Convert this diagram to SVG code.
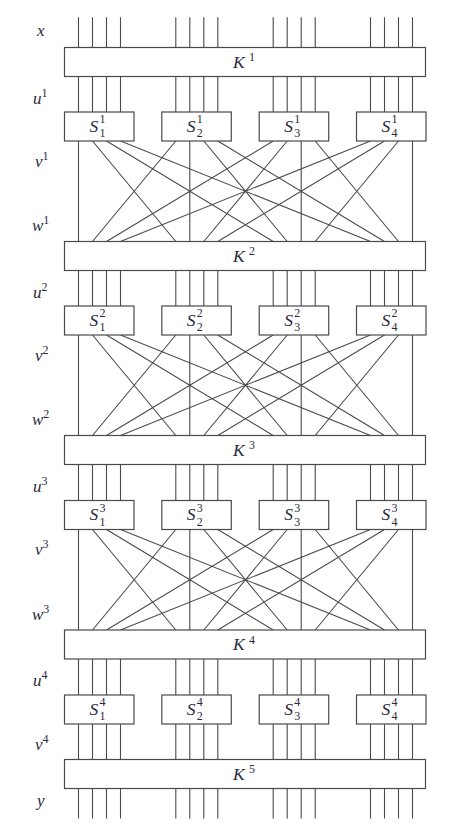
<svg xmlns="http://www.w3.org/2000/svg" width="473" height="839" viewBox="0 0 473 839">
<style>
.w{fill:none;stroke:#4a4a4a;stroke-width:1.1}
.box{fill:#fff;stroke:#4a4a4a;stroke-width:1.2}
.m{font-family:"Liberation Serif","DejaVu Serif",serif;font-style:italic;font-size:17.5px;fill:#2a2a3c}
.l{font-family:"Liberation Serif","DejaVu Serif",serif;font-style:italic;font-size:17px;fill:#2a2a3c}
.d{font-family:"Liberation Serif","DejaVu Serif",serif;font-style:normal;font-size:12px;fill:#2a2a3c}
</style>
<rect width="473" height="839" fill="#fff"/>
<g id="connectors">
<path class="w" d="M78.5 17.3V47.5M92.5 17.3V47.5M106.5 17.3V47.5M120.5 17.3V47.5M175.8 17.3V47.5M189.8 17.3V47.5M203.8 17.3V47.5M217.8 17.3V47.5M273.2 17.3V47.5M287.2 17.3V47.5M301.2 17.3V47.5M315.2 17.3V47.5M370.5 17.3V47.5M384.5 17.3V47.5M398.5 17.3V47.5M412.5 17.3V47.5"/>
<path class="w" d="M78.5 76.5V112M92.5 76.5V112M106.5 76.5V112M120.5 76.5V112M175.8 76.5V112M189.8 76.5V112M203.8 76.5V112M217.8 76.5V112M273.2 76.5V112M287.2 76.5V112M301.2 76.5V112M315.2 76.5V112M370.5 76.5V112M384.5 76.5V112M398.5 76.5V112M412.5 76.5V112"/>
<path class="w" d="M78.5 141L78.5 241.5M92.5 141L175.8 241.5M106.5 141L273.2 241.5M120.5 141L370.5 241.5M175.8 141L92.5 241.5M189.8 141L189.8 241.5M203.8 141L287.2 241.5M217.8 141L384.5 241.5M273.2 141L106.5 241.5M287.2 141L203.8 241.5M301.2 141L301.2 241.5M315.2 141L398.5 241.5M370.5 141L120.5 241.5M384.5 141L217.8 241.5M398.5 141L315.2 241.5M412.5 141L412.5 241.5"/>
<path class="w" d="M78.5 270.5V306M92.5 270.5V306M106.5 270.5V306M120.5 270.5V306M175.8 270.5V306M189.8 270.5V306M203.8 270.5V306M217.8 270.5V306M273.2 270.5V306M287.2 270.5V306M301.2 270.5V306M315.2 270.5V306M370.5 270.5V306M384.5 270.5V306M398.5 270.5V306M412.5 270.5V306"/>
<path class="w" d="M78.5 335L78.5 435.5M92.5 335L175.8 435.5M106.5 335L273.2 435.5M120.5 335L370.5 435.5M175.8 335L92.5 435.5M189.8 335L189.8 435.5M203.8 335L287.2 435.5M217.8 335L384.5 435.5M273.2 335L106.5 435.5M287.2 335L203.8 435.5M301.2 335L301.2 435.5M315.2 335L398.5 435.5M370.5 335L120.5 435.5M384.5 335L217.8 435.5M398.5 335L315.2 435.5M412.5 335L412.5 435.5"/>
<path class="w" d="M78.5 464.5V500.5M92.5 464.5V500.5M106.5 464.5V500.5M120.5 464.5V500.5M175.8 464.5V500.5M189.8 464.5V500.5M203.8 464.5V500.5M217.8 464.5V500.5M273.2 464.5V500.5M287.2 464.5V500.5M301.2 464.5V500.5M315.2 464.5V500.5M370.5 464.5V500.5M384.5 464.5V500.5M398.5 464.5V500.5M412.5 464.5V500.5"/>
<path class="w" d="M78.5 529.5L78.5 630M92.5 529.5L175.8 630M106.5 529.5L273.2 630M120.5 529.5L370.5 630M175.8 529.5L92.5 630M189.8 529.5L189.8 630M203.8 529.5L287.2 630M217.8 529.5L384.5 630M273.2 529.5L106.5 630M287.2 529.5L203.8 630M301.2 529.5L301.2 630M315.2 529.5L398.5 630M370.5 529.5L120.5 630M384.5 529.5L217.8 630M398.5 529.5L315.2 630M412.5 529.5L412.5 630"/>
<path class="w" d="M78.5 659V695M92.5 659V695M106.5 659V695M120.5 659V695M175.8 659V695M189.8 659V695M203.8 659V695M217.8 659V695M273.2 659V695M287.2 659V695M301.2 659V695M315.2 659V695M370.5 659V695M384.5 659V695M398.5 659V695M412.5 659V695"/>
<path class="w" d="M78.5 724V759.5M92.5 724V759.5M106.5 724V759.5M120.5 724V759.5M175.8 724V759.5M189.8 724V759.5M203.8 724V759.5M217.8 724V759.5M273.2 724V759.5M287.2 724V759.5M301.2 724V759.5M315.2 724V759.5M370.5 724V759.5M384.5 724V759.5M398.5 724V759.5M412.5 724V759.5"/>
<path class="w" d="M78.5 789V818.5M92.5 789V818.5M106.5 789V818.5M120.5 789V818.5M175.8 789V818.5M189.8 789V818.5M203.8 789V818.5M217.8 789V818.5M273.2 789V818.5M287.2 789V818.5M301.2 789V818.5M315.2 789V818.5M370.5 789V818.5M384.5 789V818.5M398.5 789V818.5M412.5 789V818.5"/>
</g>
<g id="labels">
<text class="l" x="37" y="35.7">x</text>
<text class="l" x="33" y="104">u<tspan class="d" dy="-7">1</tspan></text>
<text class="l" x="35" y="166.5">v<tspan class="d" dy="-7">1</tspan></text>
<text class="l" x="32" y="231">w<tspan class="d" dy="-7">1</tspan></text>
<text class="l" x="33" y="298">u<tspan class="d" dy="-7">2</tspan></text>
<text class="l" x="35" y="360.5">v<tspan class="d" dy="-7">2</tspan></text>
<text class="l" x="32" y="425">w<tspan class="d" dy="-7">2</tspan></text>
<text class="l" x="33" y="492">u<tspan class="d" dy="-7">3</tspan></text>
<text class="l" x="35" y="555">v<tspan class="d" dy="-7">3</tspan></text>
<text class="l" x="32" y="620">w<tspan class="d" dy="-7">3</tspan></text>
<text class="l" x="33" y="686">u<tspan class="d" dy="-7">4</tspan></text>
<text class="l" x="35" y="750">v<tspan class="d" dy="-7">4</tspan></text>
<text class="l" x="37" y="806">y</text>
</g>
<g id="K1"><rect class="box" x="64.5" y="47.5" width="361" height="29"/><text class="m" x="233" y="67.5">K</text><text class="d" x="249" y="61">1</text></g>
<g id="K2"><rect class="box" x="64.5" y="241.5" width="361" height="29"/><text class="m" x="233" y="261.5">K</text><text class="d" x="249" y="255">2</text></g>
<g id="K3"><rect class="box" x="64.5" y="435.5" width="361" height="29"/><text class="m" x="233" y="455.5">K</text><text class="d" x="249" y="449">3</text></g>
<g id="K4"><rect class="box" x="64.5" y="630" width="361" height="29"/><text class="m" x="233" y="650">K</text><text class="d" x="249" y="643.5">4</text></g>
<g id="K5"><rect class="box" x="64.5" y="759.5" width="361" height="29"/><text class="m" x="233" y="779.5">K</text><text class="d" x="249" y="773">5</text></g>
<g id="S11"><rect class="box" x="64.5" y="112" width="69.5" height="29"/><text class="m" x="89.5" y="131.5">S</text><text class="d" x="99.5" y="123">1</text><text class="d" x="99.5" y="137">1</text></g>
<g id="S12"><rect class="box" x="161.8" y="112" width="69.5" height="29"/><text class="m" x="186.8" y="131.5">S</text><text class="d" x="196.8" y="123">1</text><text class="d" x="196.8" y="137">2</text></g>
<g id="S13"><rect class="box" x="259.2" y="112" width="69.5" height="29"/><text class="m" x="284.2" y="131.5">S</text><text class="d" x="294.2" y="123">1</text><text class="d" x="294.2" y="137">3</text></g>
<g id="S14"><rect class="box" x="356.5" y="112" width="69.5" height="29"/><text class="m" x="381.5" y="131.5">S</text><text class="d" x="391.5" y="123">1</text><text class="d" x="391.5" y="137">4</text></g>
<g id="S21"><rect class="box" x="64.5" y="306" width="69.5" height="29"/><text class="m" x="89.5" y="325.5">S</text><text class="d" x="99.5" y="317">2</text><text class="d" x="99.5" y="331">1</text></g>
<g id="S22"><rect class="box" x="161.8" y="306" width="69.5" height="29"/><text class="m" x="186.8" y="325.5">S</text><text class="d" x="196.8" y="317">2</text><text class="d" x="196.8" y="331">2</text></g>
<g id="S23"><rect class="box" x="259.2" y="306" width="69.5" height="29"/><text class="m" x="284.2" y="325.5">S</text><text class="d" x="294.2" y="317">2</text><text class="d" x="294.2" y="331">3</text></g>
<g id="S24"><rect class="box" x="356.5" y="306" width="69.5" height="29"/><text class="m" x="381.5" y="325.5">S</text><text class="d" x="391.5" y="317">2</text><text class="d" x="391.5" y="331">4</text></g>
<g id="S31"><rect class="box" x="64.5" y="500.5" width="69.5" height="29"/><text class="m" x="89.5" y="520">S</text><text class="d" x="99.5" y="511.5">3</text><text class="d" x="99.5" y="525.5">1</text></g>
<g id="S32"><rect class="box" x="161.8" y="500.5" width="69.5" height="29"/><text class="m" x="186.8" y="520">S</text><text class="d" x="196.8" y="511.5">3</text><text class="d" x="196.8" y="525.5">2</text></g>
<g id="S33"><rect class="box" x="259.2" y="500.5" width="69.5" height="29"/><text class="m" x="284.2" y="520">S</text><text class="d" x="294.2" y="511.5">3</text><text class="d" x="294.2" y="525.5">3</text></g>
<g id="S34"><rect class="box" x="356.5" y="500.5" width="69.5" height="29"/><text class="m" x="381.5" y="520">S</text><text class="d" x="391.5" y="511.5">3</text><text class="d" x="391.5" y="525.5">4</text></g>
<g id="S41"><rect class="box" x="64.5" y="695" width="69.5" height="29"/><text class="m" x="89.5" y="714.5">S</text><text class="d" x="99.5" y="706">4</text><text class="d" x="99.5" y="720">1</text></g>
<g id="S42"><rect class="box" x="161.8" y="695" width="69.5" height="29"/><text class="m" x="186.8" y="714.5">S</text><text class="d" x="196.8" y="706">4</text><text class="d" x="196.8" y="720">2</text></g>
<g id="S43"><rect class="box" x="259.2" y="695" width="69.5" height="29"/><text class="m" x="284.2" y="714.5">S</text><text class="d" x="294.2" y="706">4</text><text class="d" x="294.2" y="720">3</text></g>
<g id="S44"><rect class="box" x="356.5" y="695" width="69.5" height="29"/><text class="m" x="381.5" y="714.5">S</text><text class="d" x="391.5" y="706">4</text><text class="d" x="391.5" y="720">4</text></g>
</svg>
